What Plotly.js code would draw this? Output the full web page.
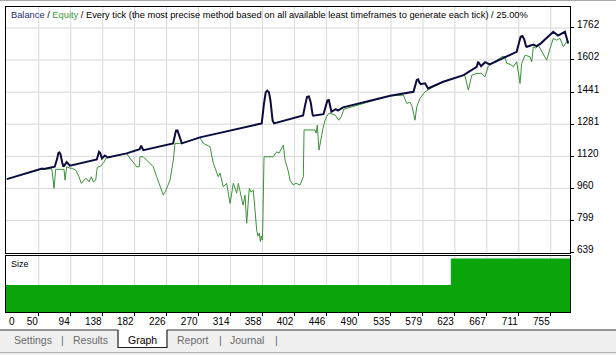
<!DOCTYPE html>
<html>
<head>
<meta charset="utf-8">
<script src="https://cdn.plot.ly/plotly-3.0.1.min.js"></script>
<style>html,body{margin:0;padding:0;background:#fff;}#chart{width:616px;height:355px;}</style>
</head>
<body>
<div id="chart"></div>
<script>
// ---- data ----
var balanceTrades = [6,52,54.5,57,72,75.5,77,78.5,80,82.5,84,88.5,93,130,131.5,133,134.5,136,137,141,145,171,189,191,194,235,237.5,239,241,243.5,247,272,336,357,360,362.5,364.5,367,369,372,374,410,414,417,419.5,422,424.5,427,428,442,445,447.5,449.5,451.5,453,459,462,469,534,566,568.5,570.5,572.5,574,576,582,586,607,635,653,655,659,664.5,671,708,711,713.5,716,718.5,721,722,731,735.5,741,756,758.5,765,774.5,779];
var balanceValues = [1006,1055,1059,1057,1068,1110,1136,1140,1130,1085,1068,1091,1073,1105,1130,1143,1138,1115,1110,1124,1114,1135,1156,1173,1151,1185,1230,1249,1250,1220,1185,1215,1268,1285,1380,1440,1448,1440,1400,1300,1285,1318,1324,1380,1418,1420,1390,1330,1323,1331,1375,1400,1401,1370,1343,1356,1349,1365,1423,1443,1470,1502,1505,1490,1481,1485,1460,1493,1526,1568,1593,1571,1591,1580,1643,1690,1718,1722,1705,1670,1668,1679,1671,1684,1735,1743,1724,1743,1685];

var equityTrades = [6,52.7,68,71,73.3,84.8,86.2,88.5,93,96.2,100.9,105.4,108.6,112.3,115,119.2,122.4,125.1,128.4,130.6,135.3,139.8,142.6,145.4,171,175.6,184.9,188.4,189.4,194,198.6,207.7,212.4,216.9,221.5,225.2,228,230.7,235.3,237.6,246.8,272,276.6,281.3,285.8,290.4,297.2,299.6,301.9,304.1,308.8,313.4,317.9,322.6,324.8,329.5,331.3,334,336.3,339.9,342.3,345.4,347.8,350.1,351.9,353.7,355.1,356.4,357.8,358.4,360.2,373,377.7,380.8,386.8,389.1,393.2,396,400.5,404.2,409.7,414.3,415.3,430.4,431.8,433.6,435.9,437.7,439.6,441.4,444.2,446.5,448.3,451,458.3,463,466.6,470,533.7,552,556.7,561.2,564,568.1,570.5,575,581.9,593.3,602.5,607,634.6,637,641.5,646.2,652.1,659,664.5,668.6,671.4,689.3,692,694.4,698.9,703.5,708.1,710,712.7,715,719.6,726.4,728.8,731,734.7,737.9,744.8,749.4,754,758.5,763.1,767.8,772.3,777,779];
var equityValues = [1006,1055,1058,960,1055,1055,1001,1068,1061,1060,1051,1018,985,1001,1011,993,1018,993,1001,1065,1071,1091,1111,1114,1135,1110,1068,1068,1118,1118,1101,1068,1018,971,926,951,976,1001,1101,1185,1185,1215,1185,1176,1168,1085,1018,1036,1001,968,985,885,985,936,985,901,876,926,785,960,941,951,851,751,721,736,694,721,701,756,1118,1118,1143,1136,1176,1101,1051,1001,976,986,976,1018,1252,1252,1236,1276,1151,1201,1226,1261,1301,1318,1331,1336,1326,1301,1318,1356,1423,1426,1385,1391,1371,1301,1368,1410,1443,1468,1486,1493,1526,1521,1451,1526,1534,1536,1518,1568,1580,1621,1618,1585,1581,1568,1593,1551,1485,1585,1626,1618,1593,1668,1661,1676,1635,1601,1660,1710,1701,1710,1668,1693,1685];

var sizeTrades = [4.9, 618, 781.5];
var sizeLots = [0.1, 0.2, 0.2];

var yTicks = [639, 799, 960, 1120, 1281, 1441, 1602, 1762];
var xTicks = [0, 50, 94, 138, 182, 226, 270, 314, 358, 402, 446, 490, 535, 579, 623, 667, 711, 755];

var titleParts = ['Balance', 'Equity', 'Every tick (the most precise method based on all available least timeframes to generate each tick)', '25.00%'];
var tabNames = ['Settings', 'Results', 'Graph', 'Report', 'Journal'];

// ---- styling / layout ----
var FONT = 'Liberation Sans, Arial, sans-serif';
var W = 616, H = 355, ML = 6, MR = 46, MT = 7, MB = 43;
var PW = W - ML - MR, PH = H - MT - MB;
function px2x(p){ return (p - ML) / PW; }
function py2y(p){ return (H - MB - p) / PH; }

var xRange = [4.9, 781.5];
var gridStyle = {color: '#d8d8d8', width: 1};

var traces = [
  {x: sizeTrades, y: sizeLots, xaxis: 'x', yaxis: 'y2', type: 'scatter', mode: 'lines',
   line: {shape: 'hv', color: '#0aa50a', width: 1}, fill: 'tozeroy', fillcolor: '#0aa50a', hoverinfo: 'skip'},
  {x: equityTrades, y: equityValues, xaxis: 'x2', yaxis: 'y', type: 'scatter', mode: 'lines',
   line: {color: '#3a913a', width: 1}},
  {x: balanceTrades, y: balanceValues, xaxis: 'x2', yaxis: 'y', type: 'scatter', mode: 'lines',
   line: {color: '#0c0c3e', width: 2}}
];

var axFont = {family: FONT, size: 10, color: '#000'};

var annotations = [
  {xref: 'paper', yref: 'paper', x: 0, y: 1, xanchor: 'left', yanchor: 'top', xshift: 3, yshift: -1,
   showarrow: false, align: 'left', font: {family: FONT, size: 9.3, color: '#000'},
   text: '<span style="color:#22306e">' + titleParts[0] + '</span> / <span style="color:#3c9c3c">' + titleParts[1] + '</span> / ' + titleParts[2] + ' / ' + titleParts[3]},
  {xref: 'paper', yref: 'paper', x: 0, y: 0.185, xanchor: 'left', yanchor: 'top', xshift: 3, yshift: -1,
   showarrow: false, font: {family: FONT, size: 9, color: '#000'}, text: 'Size'},
  {xref: 'paper', yref: 'paper', x: 0, y: 0, xanchor: 'left', yanchor: 'top', xshift: 1, yshift: -2,
   showarrow: false, font: axFont, text: String(xTicks[0])}
];

// tabs
var tabX = [33, 90, 142, 193, 247];
var sepX = [63, 220, 276];
tabNames.forEach(function(t, i){
  annotations.push({xref: 'paper', yref: 'paper', x: px2x(tabX[i]), y: py2y(339.5), xanchor: 'center', yanchor: 'middle',
    showarrow: false, font: {family: FONT, size: 10.5, color: t === 'Graph' ? '#000' : '#6a6a6a'}, text: t});
});
sepX.forEach(function(s){
  annotations.push({xref: 'paper', yref: 'paper', x: px2x(s), y: py2y(339.5), xanchor: 'center', yanchor: 'middle',
    showarrow: false, font: {family: FONT, size: 10.5, color: '#6a6a6a'}, text: '|'});
});

var shapes = [];
// grid built from the tick arrays
xTicks.slice(1).forEach(function(v){
  shapes.push({type: 'line', xref: 'x2', yref: 'y domain', x0: v, x1: v, y0: 0, y1: 1, line: gridStyle, layer: 'below'});
  shapes.push({type: 'line', xref: 'x', yref: 'y2 domain', x0: v, x1: v, y0: 0, y1: 1, line: gridStyle, layer: 'below'});
});
yTicks.slice(1).forEach(function(v){
  shapes.push({type: 'line', xref: 'x2 domain', yref: 'y', x0: 0, x1: 1, y0: v, y1: v, line: gridStyle, layer: 'below'});
});

shapes = shapes.concat([
  {type: 'line', xref: 'paper', yref: 'paper', x0: px2x(0), x1: px2x(W), y0: py2y(0.5), y1: py2y(0.5), line: {color: '#a8a8a8', width: 1}},
  {type: 'rect', xref: 'paper', yref: 'paper', x0: px2x(0), x1: px2x(W), y0: py2y(330), y1: py2y(355), fillcolor: '#f0f0f0', line: {width: 0}, layer: 'below'},
  {type: 'line', xref: 'paper', yref: 'paper', x0: px2x(0), x1: px2x(118), y0: py2y(330), y1: py2y(330), line: {color: '#303030', width: 1}},
  {type: 'line', xref: 'paper', yref: 'paper', x0: px2x(167), x1: px2x(W), y0: py2y(330), y1: py2y(330), line: {color: '#303030', width: 1}},
  {type: 'path', xref: 'paper', yref: 'paper',
   path: 'M' + px2x(118) + ',' + py2y(330) + ' L' + px2x(118) + ',' + py2y(347.5) + ' L' + px2x(167) + ',' + py2y(347.5) + ' L' + px2x(167) + ',' + py2y(330),
   fillcolor: '#ffffff', line: {color: '#202020', width: 1.2}},
  {type: 'line', xref: 'paper', yref: 'paper', x0: px2x(0), x1: px2x(W), y0: py2y(352.5), y1: py2y(352.5), line: {color: '#b0b0b0', width: 1}}
]);

var layout = {
  width: W, height: H,
  margin: {l: ML, r: MR, t: MT, b: MB, pad: 0},
  paper_bgcolor: '#ffffff', plot_bgcolor: 'rgba(0,0,0,0)',
  showlegend: false,
  font: {family: FONT, size: 10, color: '#000'},
  xaxis: {domain: [0, 1], anchor: 'y2', range: xRange, tickmode: 'array', tickvals: xTicks.slice(1), ticktext: xTicks.slice(1).map(String),
    ticklabelposition: 'outside left', ticks: 'outside', ticklen: 3, tickcolor: '#000', tickfont: axFont,
    showgrid: false, zeroline: false,
    showline: true, linecolor: '#000', linewidth: 1, mirror: true},
  xaxis2: {domain: [0, 1], anchor: 'y', matches: 'x', range: xRange, showticklabels: false, ticks: '',
    showgrid: false, zeroline: false,
    showline: true, linecolor: '#000', linewidth: 1, mirror: true},
  yaxis: {domain: [0.195, 1], anchor: 'x2', side: 'right', range: [639, 1867], tickmode: 'array', tickvals: yTicks, ticktext: yTicks.map(String),
    ticks: 'outside', ticklen: 3, tickcolor: '#000', tickfont: axFont, ticklabelstandoff: 1, ticklabelshift: -3,
    showgrid: false, zeroline: false,
    showline: true, linecolor: '#000', linewidth: 1, mirror: true},
  yaxis2: {domain: [0, 0.185], anchor: 'x', range: [0, 0.213], showticklabels: false, ticks: '', showgrid: false, zeroline: false,
    showline: true, linecolor: '#000', linewidth: 1, mirror: true},
  annotations: annotations,
  shapes: shapes
};

Plotly.newPlot('chart', traces, layout, {displayModeBar: false});
</script>
</body>
</html>
